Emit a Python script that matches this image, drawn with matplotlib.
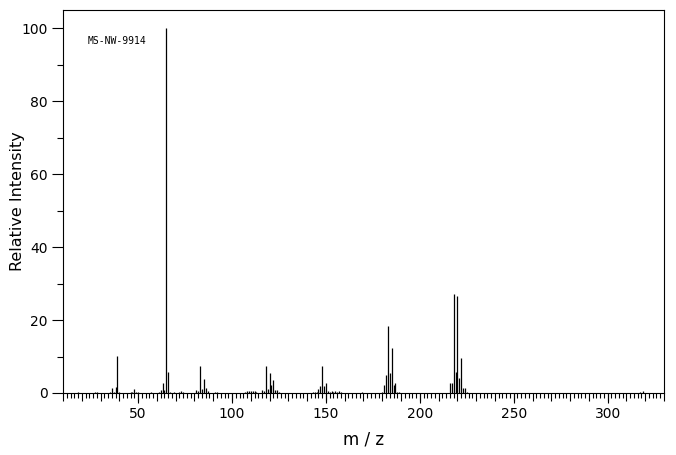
import matplotlib
matplotlib.use('Agg')
import matplotlib.pyplot as plt
from matplotlib.ticker import MultipleLocator, FixedLocator, NullFormatter

# peak list
mz = [18, 27, 28, 35, 36, 37, 38, 39, 40, 46, 47, 48, 49, 50,
      57, 61, 62, 63, 64, 65, 66, 67, 69, 72, 73, 74,
      81, 82, 83, 84, 85, 86, 87, 91, 92,
      107, 108, 109, 110, 111, 112, 113,
      116, 117, 118, 119, 120, 121, 122, 123, 124, 125,
      143, 144, 145, 146, 147, 148, 149, 150, 151, 152, 153, 154, 155, 156, 157, 158,
      169, 180, 181, 182, 183, 184, 185, 186, 187, 188, 189,
      216, 217, 218, 219, 220, 221, 222, 223, 224, 225, 317, 319]
intensity = [0.3, 0.3, 0.3, 0.3, 1.4, 0.3, 1.7, 10.2, 0.4, 0.3, 0.4, 1.1, 0.4, 0.3,
             0.3, 0.3, 0.8, 2.8, 0.8, 100, 5.8, 0.4, 0.3, 0.3, 0.6, 0.3,
             0.9, 0.6, 7.3, 1.2, 3.9, 1.5, 0.6, 0.3, 0.4,
             0.4, 0.5, 0.5, 0.6, 0.6, 0.5, 0.3,
             0.9, 0.6, 7.5, 1.2, 5.6, 2.3, 3.5, 0.9, 0.9, 0.4,
             0.4, 0.4, 0.4, 1.1, 2.0, 7.3, 1.8, 2.8, 0.6, 0.4, 0.6, 0.4, 0.6, 0.4, 0.6, 0.4,
             0.4, 0.4, 2.2, 5.0, 18.4, 5.5, 12.4, 2.2, 2.8, 0.4, 0.4,
             2.8, 2.8, 27.2, 5.8, 26.7, 4.2, 9.7, 1.5, 1.5, 0.3, 0.4, 0.6]
xticks = [50, 100, 150, 200, 250, 300]
label = 'MS-NW-9914'

fig = plt.figure(figsize=(6.76, 4.55), dpi=100)
ax = fig.add_axes([0.0932, 0.1363, 0.8890, 0.8417])

ax.vlines(mz, 0, intensity, colors='black', linewidth=0.9)

ax.set_xlim(10, 330)
ax.set_ylim(0, 105)

for s in ax.spines.values():
    s.set_linewidth(0.8)

# y ticks
ax.yaxis.set_major_locator(MultipleLocator(20))
ax.yaxis.set_minor_locator(MultipleLocator(10))
ax.tick_params(axis='y', which='major', direction='out', length=8, width=0.8, pad=3, labelsize=10)
ax.tick_params(axis='y', which='minor', direction='out', length=4.5, width=0.8)

# x ticks: 10s medium, 2s small, 50s long with labels (secondary axis)
ax.xaxis.set_major_locator(MultipleLocator(10))
ax.xaxis.set_major_formatter(NullFormatter())
ax.xaxis.set_minor_locator(MultipleLocator(2))
ax.tick_params(axis='x', which='major', direction='out', length=5.4, width=0.8)
ax.tick_params(axis='x', which='minor', direction='out', length=3.6, width=0.8)

sec = ax.secondary_xaxis('bottom')
sec.xaxis.set_major_locator(FixedLocator(xticks))
sec.tick_params(axis='x', direction='out', length=7.2, width=0.8, pad=3, labelsize=10)
sec.spines['bottom'].set_visible(False)
sec.set_xlabel('m / z', fontsize=12, labelpad=7)

ax.set_ylabel('Relative Intensity', fontsize=11.5)
ax.yaxis.set_label_coords(-0.064, 0.5)

ax.text(23, 96.4, label, family='DejaVu Sans Mono', fontsize=7, va='center', ha='left')

plt.savefig('out.png', dpi=100)
plt.close(fig)
